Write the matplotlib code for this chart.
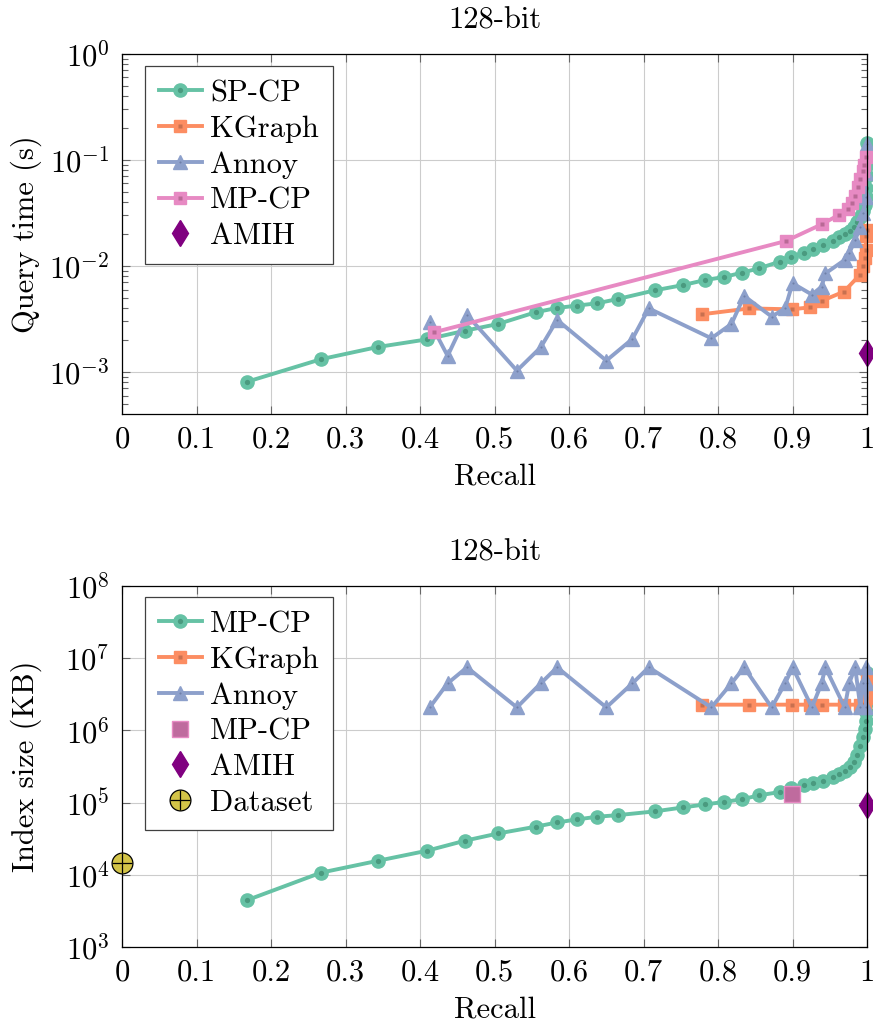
import numpy as np
import matplotlib
matplotlib.use("Agg")
import matplotlib.pyplot as plt
from matplotlib.ticker import FixedLocator, LogLocator, FuncFormatter, NullFormatter
from matplotlib.legend_handler import HandlerTuple

# shared recall values of the CP curves
cp_recall = [0.168, 0.267, 0.343, 0.409, 0.460, 0.505, 0.555, 0.584, 0.611, 0.638,
             0.666, 0.715, 0.753, 0.783, 0.808, 0.832, 0.855, 0.883, 0.898, 0.915,
             0.928, 0.941, 0.954, 0.963, 0.970, 0.977, 0.982, 0.987, 0.991, 0.995,
             0.997, 0.998, 0.999, 0.9995, 0.9998, 1.0, 1.0]

# query time (s)
spcp_query_time = [8.1e-4, 1.32e-3, 1.72e-3, 2.03e-3, 2.45e-3, 2.84e-3, 3.66e-3, 4.02e-3, 4.23e-3, 4.45e-3,
                   4.89e-3, 5.89e-3, 6.61e-3, 7.38e-3, 7.87e-3, 8.65e-3, 9.5e-3, 1.10e-2, 1.22e-2, 1.34e-2,
                   1.44e-2, 1.57e-2, 1.72e-2, 1.86e-2, 2.0e-2, 2.15e-2, 2.35e-2, 2.6e-2, 2.9e-2, 3.3e-2,
                   3.8e-2, 4.5e-2, 5.5e-2, 7.0e-2, 9.0e-2, 0.115, 0.144]

kgraph_recall = [0.778, 0.842, 0.899, 0.923, 0.939, 0.969, 0.990, 0.995, 0.997, 0.998, 0.999, 1.0]
kgraph_query_time = [3.5e-3, 3.98e-3, 3.9e-3, 4.07e-3, 4.68e-3, 5.73e-3, 8.2e-3, 9.9e-3, 1.2e-2, 1.42e-2,
                     1.9e-2, 2.2e-2]

annoy_recall = [0.413, 0.437, 0.463, 0.530, 0.562, 0.584, 0.650, 0.685, 0.707, 0.791,
                0.818, 0.835, 0.872, 0.890, 0.900, 0.926, 0.939, 0.944, 0.970, 0.976,
                0.984, 0.991, 0.995, 0.998, 0.999, 1.0]
annoy_query_time = [2.98e-3, 1.42e-3, 3.45e-3, 1.03e-3, 1.71e-3, 3.1e-3, 1.28e-3, 2.05e-3, 3.98e-3, 2.08e-3,
                    2.84e-3, 5.21e-3, 3.33e-3, 3.98e-3, 6.87e-3, 5.37e-3, 6.38e-3, 8.5e-3, 1.14e-2, 1.32e-2,
                    1.76e-2, 2.34e-2, 3.14e-2, 4.5e-2, 7.5e-2, 0.14]

mpcp_recall = [0.419, 0.891, 0.939, 0.962, 0.974, 0.980, 0.984, 0.988, 0.991, 0.994, 0.996, 0.9987]
mpcp_query_time = [2.37e-3, 1.72e-2, 2.47e-2, 3.03e-2, 3.43e-2, 3.9e-2, 4.6e-2, 5.6e-2, 6.6e-2, 7.8e-2,
                   9.0e-2, 0.107]

amih_recall = [1.0]
amih_query_time = [1.5e-3]

# index size (KB)
mpcp_index_size = [4.46e3, 1.07e4, 1.56e4, 2.15e4, 2.96e4, 3.74e4, 4.63e4, 5.31e4, 5.85e4, 6.37e4,
                   6.71e4, 7.55e4, 8.57e4, 9.44e4, 1.02e5, 1.11e5, 1.26e5, 1.40e5, 1.57e5, 1.75e5,
                   1.88e5, 2.0e5, 2.23e5, 2.48e5, 2.75e5, 3.14e5, 3.6e5, 4.6e5, 6.0e5, 8.0e5,
                   1.05e6, 1.36e6, 1.8e6, 2.5e6, 3.4e6, 4.6e6, 6.2e6]
kgraph_index_size = [2.27e6, 2.27e6, 2.27e6, 2.27e6, 2.27e6, 2.27e6, 2.27e6, 2.27e6, 2.3e6, 2.8e6,
                     3.5e6, 5.0e6]
annoy_index_size = [2.08e6, 4.48e6, 7.46e6, 2.08e6, 4.48e6, 7.46e6, 2.08e6, 4.48e6, 7.46e6, 2.08e6,
                    4.48e6, 7.46e6, 2.08e6, 4.48e6, 7.46e6, 2.08e6, 4.48e6, 7.46e6, 2.08e6, 4.48e6,
                    7.46e6, 2.08e6, 4.48e6, 7.46e6, 2.08e6, 4.48e6]
mpcp_point_recall = [0.899]
mpcp_point_index_size = [1.31e5]
amih_index_size = [9.4e4]
dataset_recall = [0.0]
dataset_index_size = [1.44e4]

x_ticks = [0, 0.1, 0.2, 0.3, 0.4, 0.5, 0.6, 0.7, 0.8, 0.9, 1]

GREEN, GREEN_DOT = "#66c2a5", "#4a9a7f"
ORANGE, ORANGE_DOT = "#fc8d62", "#c8704f"
BLUE, BLUE_DOT = "#8da0cb", "#6f80a8"
PINK, PINK_DOT = "#e78ac3", "#b96996"
PURPLE = "#800080"
YELLOW = "#d3c448"

FS = 22

plt.rcParams["font.family"] = "serif"
plt.rcParams["font.serif"] = ["cmr10"]
plt.rcParams["mathtext.fontset"] = "cm"
plt.rcParams["axes.unicode_minus"] = False
plt.rcParams["axes.formatter.use_mathtext"] = True


def series(ax, x, y, color, dot_color, marker, ms, dot_ms):
    line, = ax.plot(x, y, color=color, lw=2.8, marker=marker, ms=ms,
                    mfc=color, mec=color, mew=1.0, clip_on=False)
    dots, = ax.plot(x, y, ls="none", marker="s" if marker == "s" else "o", ms=dot_ms,
                    mfc=dot_color, mec="none", clip_on=False, zorder=line.get_zorder())
    return (line, dots)


def style_axis(ax, ylabel, ylim, decades):
    ax.set_xlim(0, 1)
    ax.set_yscale("log")
    ax.set_ylim(*ylim)
    ax.xaxis.set_major_locator(FixedLocator(x_ticks))
    ax.xaxis.set_major_formatter(FuncFormatter(lambda v, _: "%g" % v))
    ax.yaxis.set_major_locator(FixedLocator([10.0 ** d for d in decades]))
    ax.yaxis.set_major_formatter(FuncFormatter(lambda v, _: r"$10^{%d}$" % round(np.log10(v))))
    ax.yaxis.set_minor_locator(LogLocator(base=10, subs=np.arange(2, 10)))
    ax.yaxis.set_minor_formatter(NullFormatter())
    ax.tick_params(which="both", direction="in", top=True, right=True, labelsize=FS,
                   color="0.4", width=0.8)
    ax.tick_params(which="major", length=6, pad=9)
    ax.tick_params(which="minor", length=4)
    ax.grid(True, which="major", color="#cccccc", lw=0.8)
    ax.set_axisbelow(True)
    for s in ax.spines.values():
        s.set_linewidth(0.9)
    ax.set_title("128-bit", fontsize=FS, pad=18)
    ax.set_xlabel("Recall", fontsize=FS)
    ax.xaxis.set_label_coords(0.5, -0.135)
    ax.set_ylabel(ylabel, fontsize=FS)
    ax.yaxis.set_label_coords(-0.108, 0.5)


def add_legend(ax, handles, labels, top):
    leg = ax.legend(handles, labels, loc="upper left", bbox_to_anchor=(0.031, top),
                    borderaxespad=0, fancybox=False, edgecolor="0.25", framealpha=1,
                    handlelength=1.4, handletextpad=0.28, borderpad=0.45, labelspacing=0.27,
                    fontsize=FS, handler_map={tuple: HandlerTuple(ndivide=1, pad=0)})
    leg.get_frame().set_linewidth(0.9)
    leg.set_zorder(10)


def main():
    fig = plt.figure(figsize=(8.73, 10.28), dpi=100)
    ax1 = fig.add_axes([0.1398, 0.5973, 0.8534, 0.3502])
    ax2 = fig.add_axes([0.1398, 0.0788, 0.8534, 0.3512])

    # 1. Query time vs recall
    h = []
    h.append(series(ax1, cp_recall, spcp_query_time, GREEN, GREEN_DOT, "o", 9.5, 3.8))
    h.append(series(ax1, kgraph_recall, kgraph_query_time, ORANGE, ORANGE_DOT, "s", 8.5, 3.2))
    h.append(series(ax1, annoy_recall, annoy_query_time, BLUE, BLUE_DOT, "^", 10, 1.5))
    h.append(series(ax1, mpcp_recall, mpcp_query_time, PINK, PINK_DOT, "s", 8.5, 3.2))
    amih1, = ax1.plot(amih_recall, amih_query_time, ls="none", marker="d", ms=13,
                      color=PURPLE, clip_on=False)
    h.append(amih1)
    style_axis(ax1, "Query time (s)", (10 ** -3.396, 1), [-3, -2, -1, 0])
    add_legend(ax1, h, ["SP-CP", "KGraph", "Annoy", "MP-CP", "AMIH"], 0.967)

    # 2. Index size vs recall
    h = []
    h.append(series(ax2, cp_recall, mpcp_index_size, GREEN, GREEN_DOT, "o", 9.5, 3.8))
    h.append(series(ax2, kgraph_recall, kgraph_index_size, ORANGE, ORANGE_DOT, "s", 8.5, 3.2))
    h.append(series(ax2, annoy_recall, annoy_index_size, BLUE, BLUE_DOT, "^", 10, 1.5))
    pt, = ax2.plot(mpcp_point_recall, mpcp_point_index_size, ls="none", marker="s", ms=11,
                   mfc="#bf6b9e", mec=PINK, mew=1.0, clip_on=False)
    h.append(pt)
    amih2, = ax2.plot(amih_recall, amih_index_size, ls="none", marker="d", ms=13,
                      color=PURPLE, clip_on=False)
    h.append(amih2)
    ds, = ax2.plot(dataset_recall, dataset_index_size, ls="none", marker="o", ms=15,
                   mfc=YELLOW, mec="black", mew=0.9, clip_on=False, zorder=6)
    ds_plus, = ax2.plot(dataset_recall, dataset_index_size, ls="none", marker="+", ms=15,
                        mec="black", mew=0.9, clip_on=False, zorder=7)
    h.append((ds, ds_plus))
    style_axis(ax2, "Index size (KB)", (1e3, 1e8), [3, 4, 5, 6, 7, 8])
    add_legend(ax2, h, ["MP-CP", "KGraph", "Annoy", "MP-CP", "AMIH", "Dataset"], 0.9695)

    fig.savefig("out.png", dpi=100)


if __name__ == "__main__":
    main()
